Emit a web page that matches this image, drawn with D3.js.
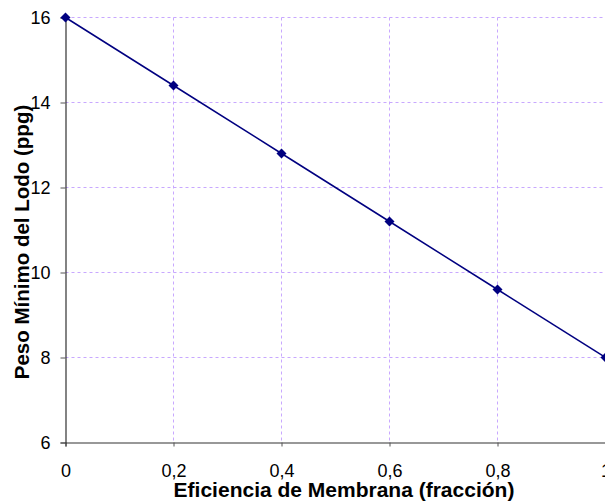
<!DOCTYPE html>
<html lang="en">
<head>
    <meta charset="UTF-8">
    <title>Peso Minimo del Lodo</title>
    <script src="https://d3js.org/d3.v7.min.js"></script>
    <style>
        body { margin: 0; background: white; }
        svg text { font-family: Arial, "Liberation Sans", sans-serif; }
        .grid line { stroke: #c8a8ff; stroke-dasharray: 3,3; stroke-width: 1; }
    </style>
</head>
<body>
    <svg id="canvas" width="605" height="503"></svg>
    <script>
        // chart values
        let eficiencia = [0, 0.2, 0.4, 0.6, 0.8, 1];
        let pesoMinimo = [16, 14.4, 12.8, 11.2, 9.6, 8];
        let xTicks = [0, 0.2, 0.4, 0.6, 0.8, 1];
        let yTicks = [6, 8, 10, 12, 14, 16];

        let svg = d3.select('#canvas');
        let fmt = d => String(d).replace('.', ',');

        let x = d3.scaleLinear().domain([0, 1]).range([65.5, 605.5]);
        let y = d3.scaleLinear().domain([6, 16]).range([442.5, 17.5]);

        // gridlines
        let grid = svg.append('g').attr('class', 'grid');
        grid.selectAll('.h')
            .data(yTicks.filter(d => d > 6))
            .enter().append('line')
            .attr('x1', x(0)).attr('x2', x(1))
            .attr('y1', d => y(d)).attr('y2', d => y(d));
        grid.selectAll('.v')
            .data(xTicks.filter(d => d > 0))
            .enter().append('line')
            .attr('x1', d => x(d)).attr('x2', d => x(d))
            .attr('y1', y(16)).attr('y2', y(6));

        // axes
        let xAxis = svg.append('g')
            .attr('transform', 'translate(0,' + y(6) + ')')
            .call(d3.axisBottom(x).tickValues(xTicks).tickFormat(fmt).tickSize(4).tickPadding(18));
        let yAxis = svg.append('g')
            .attr('transform', 'translate(' + x(0) + ',0)')
            .call(d3.axisLeft(y).tickValues(yTicks).tickSize(5).tickPadding(10));
        [xAxis, yAxis].forEach(a => {
            a.select('.domain').attr('stroke', '#333').attr('stroke-width', 1.2);
            a.selectAll('.tick line').attr('stroke', '#555');
            a.selectAll('.tick text').attr('font-size', '18px').attr('fill', '#000')
                .style('font-family', 'Arial, "Liberation Sans", sans-serif');
        });

        // line + markers
        let pts = eficiencia.map((d, i) => [d, pesoMinimo[i]]);
        svg.append('path')
            .datum(pts)
            .attr('fill', 'none')
            .attr('stroke', '#000080')
            .attr('stroke-width', 1.5)
            .attr('d', d3.line().x(d => x(d[0])).y(d => y(d[1])));
        svg.selectAll('.mk')
            .data(pts)
            .enter().append('path')
            .attr('transform', d => 'translate(' + x(d[0]) + ',' + y(d[1]) + ')')
            .attr('d', 'M0,-5L5,0L0,5L-5,0Z')
            .attr('fill', '#000080');

        // titles
        svg.append('text')
            .attr('x', 344).attr('y', 497)
            .attr('text-anchor', 'middle')
            .attr('font-size', '21px').attr('font-weight', 'bold')
            .text('Eficiencia de Membrana (fracción)');
        svg.append('text')
            .attr('transform', 'translate(29,242) rotate(-90)')
            .attr('text-anchor', 'middle')
            .attr('font-size', '20.5px').attr('font-weight', 'bold')
            .text('Peso Mínimo del Lodo (ppg)');
    </script>
</body>
</html>
